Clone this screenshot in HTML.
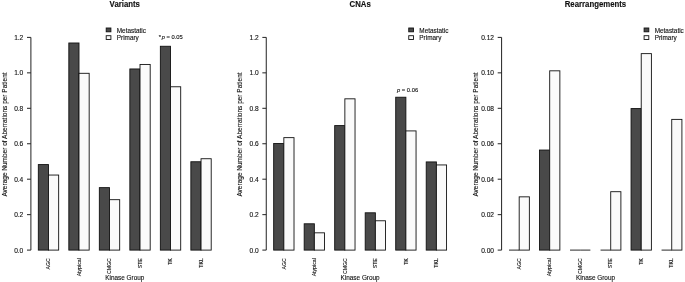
<!DOCTYPE html>
<html><head><meta charset="utf-8"><style>
html,body{margin:0;padding:0;background:#fff;}
svg{display:block;will-change:transform;}
text{font-family:"Liberation Sans",sans-serif;fill:#111;stroke:#111;stroke-width:0.12px;}
.ax{stroke:#222;stroke-width:1;}
.bar{stroke:#111;stroke-width:0.9;}
.tl{font-size:6.6px;text-anchor:end;}
.xl{font-size:5.2px;text-anchor:end;}
.ti{font-size:7.8px;font-weight:bold;text-anchor:middle;}
.lab{font-size:6.4px;text-anchor:middle;}
.lg{font-size:6.4px;}
.yl{font-size:6.5px;text-anchor:middle;}
.an{font-size:5.8px;}
</style></head><body>
<svg width="685" height="282" viewBox="0 0 685 282">
<rect width="685" height="282" fill="#fff"/>
<line x1="30.90" y1="250.10" x2="30.90" y2="37.40" class="ax"/>
<line x1="27.00" y1="250.10" x2="30.90" y2="250.10" class="ax"/>
<text x="23.30" y="252.50" class="tl">0.0</text>
<line x1="27.00" y1="214.65" x2="30.90" y2="214.65" class="ax"/>
<text x="23.30" y="217.05" class="tl">0.2</text>
<line x1="27.00" y1="179.20" x2="30.90" y2="179.20" class="ax"/>
<text x="23.30" y="181.60" class="tl">0.4</text>
<line x1="27.00" y1="143.75" x2="30.90" y2="143.75" class="ax"/>
<text x="23.30" y="146.15" class="tl">0.6</text>
<line x1="27.00" y1="108.30" x2="30.90" y2="108.30" class="ax"/>
<text x="23.30" y="110.70" class="tl">0.8</text>
<line x1="27.00" y1="72.85" x2="30.90" y2="72.85" class="ax"/>
<text x="23.30" y="75.25" class="tl">1.0</text>
<line x1="27.00" y1="37.40" x2="30.90" y2="37.40" class="ax"/>
<text x="23.30" y="39.80" class="tl">1.2</text>
<rect x="38.32" y="164.58" width="10.17" height="85.52" fill="#494949" class="bar"/>
<rect x="48.49" y="175.04" width="10.17" height="75.06" fill="#fafafa" class="bar"/>
<text transform="translate(50.24,258.2) rotate(-90)" class="xl">AGC</text>
<rect x="68.83" y="42.99" width="10.17" height="207.11" fill="#494949" class="bar"/>
<rect x="79.00" y="73.30" width="10.17" height="176.80" fill="#fafafa" class="bar"/>
<text transform="translate(80.75,258.2) rotate(-90)" class="xl">Atypical</text>
<rect x="99.34" y="187.63" width="10.17" height="62.47" fill="#494949" class="bar"/>
<rect x="109.51" y="199.68" width="10.17" height="50.42" fill="#fafafa" class="bar"/>
<text transform="translate(111.26,258.2) rotate(-90)" class="xl">CMGC</text>
<rect x="129.85" y="68.96" width="10.17" height="181.14" fill="#494949" class="bar"/>
<rect x="140.02" y="64.44" width="10.17" height="185.66" fill="#fafafa" class="bar"/>
<text transform="translate(141.77,258.2) rotate(-90)" class="xl">STE</text>
<rect x="160.36" y="46.27" width="10.17" height="203.83" fill="#494949" class="bar"/>
<rect x="170.53" y="86.77" width="10.17" height="163.33" fill="#fafafa" class="bar"/>
<text transform="translate(172.28,258.2) rotate(-90)" class="xl">TK</text>
<rect x="190.87" y="161.75" width="10.17" height="88.35" fill="#494949" class="bar"/>
<rect x="201.04" y="158.73" width="10.17" height="91.37" fill="#fafafa" class="bar"/>
<text transform="translate(202.79,258.2) rotate(-90)" class="xl">TKL</text>
<text transform="translate(124.76,6.55) scale(1,1.12)" class="ti">Variants</text>
<text x="124.76" y="279.9" class="lab">Kinase Group</text>
<text transform="translate(6.80,134.5) rotate(-90)" class="yl">Average Number of Aberrations per Patient</text>
<line x1="266.25" y1="250.10" x2="266.25" y2="37.40" class="ax"/>
<line x1="262.35" y1="250.10" x2="266.25" y2="250.10" class="ax"/>
<text x="258.65" y="252.50" class="tl">0.0</text>
<line x1="262.35" y1="214.65" x2="266.25" y2="214.65" class="ax"/>
<text x="258.65" y="217.05" class="tl">0.2</text>
<line x1="262.35" y1="179.20" x2="266.25" y2="179.20" class="ax"/>
<text x="258.65" y="181.60" class="tl">0.4</text>
<line x1="262.35" y1="143.75" x2="266.25" y2="143.75" class="ax"/>
<text x="258.65" y="146.15" class="tl">0.6</text>
<line x1="262.35" y1="108.30" x2="266.25" y2="108.30" class="ax"/>
<text x="258.65" y="110.70" class="tl">0.8</text>
<line x1="262.35" y1="72.85" x2="266.25" y2="72.85" class="ax"/>
<text x="258.65" y="75.25" class="tl">1.0</text>
<line x1="262.35" y1="37.40" x2="266.25" y2="37.40" class="ax"/>
<text x="258.65" y="39.80" class="tl">1.2</text>
<rect x="273.67" y="143.49" width="10.17" height="106.61" fill="#494949" class="bar"/>
<rect x="283.84" y="137.64" width="10.17" height="112.46" fill="#fafafa" class="bar"/>
<text transform="translate(285.59,258.2) rotate(-90)" class="xl">AGC</text>
<rect x="304.18" y="223.79" width="10.17" height="26.31" fill="#494949" class="bar"/>
<rect x="314.35" y="232.82" width="10.17" height="17.28" fill="#fafafa" class="bar"/>
<text transform="translate(316.10,258.2) rotate(-90)" class="xl">Atypical</text>
<rect x="334.69" y="125.59" width="10.17" height="124.51" fill="#494949" class="bar"/>
<rect x="344.86" y="98.82" width="10.17" height="151.28" fill="#fafafa" class="bar"/>
<text transform="translate(346.61,258.2) rotate(-90)" class="xl">CMGC</text>
<rect x="365.20" y="212.80" width="10.17" height="37.30" fill="#494949" class="bar"/>
<rect x="375.37" y="220.77" width="10.17" height="29.33" fill="#fafafa" class="bar"/>
<text transform="translate(377.12,258.2) rotate(-90)" class="xl">STE</text>
<rect x="395.71" y="97.23" width="10.17" height="152.87" fill="#494949" class="bar"/>
<rect x="405.88" y="130.91" width="10.17" height="119.19" fill="#fafafa" class="bar"/>
<text transform="translate(407.63,258.2) rotate(-90)" class="xl">TK</text>
<rect x="426.22" y="161.93" width="10.17" height="88.17" fill="#494949" class="bar"/>
<rect x="436.39" y="164.94" width="10.17" height="85.16" fill="#fafafa" class="bar"/>
<text transform="translate(438.14,258.2) rotate(-90)" class="xl">TKL</text>
<text transform="translate(360.11,6.55) scale(1,1.12)" class="ti">CNAs</text>
<text x="360.11" y="279.9" class="lab">Kinase Group</text>
<text transform="translate(242.15,134.5) rotate(-90)" class="yl">Average Number of Aberrations per Patient</text>
<line x1="501.60" y1="250.10" x2="501.60" y2="37.40" class="ax"/>
<line x1="497.70" y1="250.10" x2="501.60" y2="250.10" class="ax"/>
<text x="494.00" y="252.50" class="tl">0.00</text>
<line x1="497.70" y1="214.65" x2="501.60" y2="214.65" class="ax"/>
<text x="494.00" y="217.05" class="tl">0.02</text>
<line x1="497.70" y1="179.20" x2="501.60" y2="179.20" class="ax"/>
<text x="494.00" y="181.60" class="tl">0.04</text>
<line x1="497.70" y1="143.75" x2="501.60" y2="143.75" class="ax"/>
<text x="494.00" y="146.15" class="tl">0.06</text>
<line x1="497.70" y1="108.30" x2="501.60" y2="108.30" class="ax"/>
<text x="494.00" y="110.70" class="tl">0.08</text>
<line x1="497.70" y1="72.85" x2="501.60" y2="72.85" class="ax"/>
<text x="494.00" y="75.25" class="tl">0.10</text>
<line x1="497.70" y1="37.40" x2="501.60" y2="37.40" class="ax"/>
<text x="494.00" y="39.80" class="tl">0.12</text>
<line x1="509.02" y1="250.10" x2="519.19" y2="250.10" class="bar"/>
<rect x="519.19" y="196.84" width="10.17" height="53.26" fill="#fafafa" class="bar"/>
<text transform="translate(520.94,258.2) rotate(-90)" class="xl">AGC</text>
<rect x="539.53" y="150.05" width="10.17" height="100.05" fill="#494949" class="bar"/>
<rect x="549.70" y="70.82" width="10.17" height="179.28" fill="#fafafa" class="bar"/>
<text transform="translate(551.45,258.2) rotate(-90)" class="xl">Atypical</text>
<line x1="570.04" y1="250.10" x2="580.21" y2="250.10" class="bar"/>
<line x1="580.21" y1="250.10" x2="590.38" y2="250.10" class="bar"/>
<text transform="translate(581.96,258.2) rotate(-90)" class="xl">CMGC</text>
<line x1="600.55" y1="250.10" x2="610.72" y2="250.10" class="bar"/>
<rect x="610.72" y="191.70" width="10.17" height="58.40" fill="#fafafa" class="bar"/>
<text transform="translate(612.47,258.2) rotate(-90)" class="xl">STE</text>
<rect x="631.06" y="108.57" width="10.17" height="141.53" fill="#494949" class="bar"/>
<rect x="641.23" y="53.63" width="10.17" height="196.47" fill="#fafafa" class="bar"/>
<text transform="translate(642.98,258.2) rotate(-90)" class="xl">TK</text>
<line x1="661.57" y1="250.10" x2="671.74" y2="250.10" class="bar"/>
<rect x="671.74" y="119.38" width="10.17" height="130.72" fill="#fafafa" class="bar"/>
<text transform="translate(673.49,258.2) rotate(-90)" class="xl">TKL</text>
<text transform="translate(595.46,6.55) scale(1,1.12)" class="ti">Rearrangements</text>
<text x="595.46" y="279.9" class="lab">Kinase Group</text>
<text transform="translate(477.50,134.5) rotate(-90)" class="yl">Average Number of Aberrations per Patient</text>
<rect x="106.20" y="28.0" width="4.7" height="3.8" fill="#494949" class="bar"/>
<rect x="106.20" y="35.7" width="4.7" height="3.8" fill="#fafafa" class="bar"/>
<text x="116.80" y="32.6" class="lg">Metastatic</text>
<text x="116.80" y="40.1" class="lg">Primary</text>
<rect x="408.75" y="28.0" width="4.7" height="3.8" fill="#494949" class="bar"/>
<rect x="408.75" y="35.7" width="4.7" height="3.8" fill="#fafafa" class="bar"/>
<text x="419.35" y="32.6" class="lg">Metastatic</text>
<text x="419.35" y="40.1" class="lg">Primary</text>
<rect x="644.10" y="28.0" width="4.7" height="3.8" fill="#494949" class="bar"/>
<rect x="644.10" y="35.7" width="4.7" height="3.8" fill="#fafafa" class="bar"/>
<text x="654.70" y="32.6" class="lg">Metastatic</text>
<text x="654.70" y="40.1" class="lg">Primary</text>
<text x="158.7" y="38.5" class="an">*</text>
<text x="161.7" y="38.5" class="an"><tspan font-style="italic">p</tspan> = 0.05</text>
<text x="397" y="92.4" class="an"><tspan font-style="italic">p</tspan> = 0.06</text>
</svg></body></html>
